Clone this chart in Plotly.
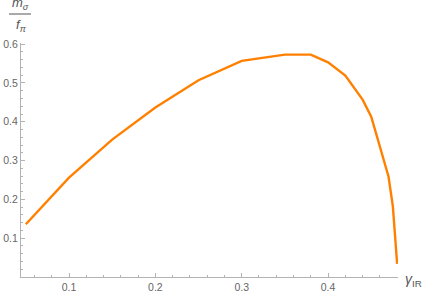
import plotly.graph_objects as go

gamma_ir = [0.05, 0.10, 0.15, 0.20, 0.25, 0.30, 0.35, 0.38, 0.40, 0.42, 0.44, 0.45, 0.47, 0.475, 0.48]
m_sigma_over_f_pi = [0.136, 0.256, 0.354, 0.437, 0.507, 0.557, 0.573, 0.573, 0.553, 0.519, 0.457, 0.413, 0.259, 0.183, 0.034]
x_ticks = [0.1, 0.2, 0.3, 0.4]
y_ticks = [0.1, 0.2, 0.3, 0.4, 0.5, 0.6]

W, H = 436, 298
ML, MR, MT, MB = 21, 38, 43, 21
PW, PH = W - ML - MR, H - MT - MB

axis_col = "#b3b3b3"
lab_col = "#666666"
font = "Liberation Sans"

fig = go.Figure()
fig.add_trace(go.Scatter(x=gamma_ir, y=m_sigma_over_f_pi, mode="lines",
                         line=dict(color="#ff8000", width=2.4), showlegend=False,
                         hoverinfo="skip"))

common = dict(showgrid=False, zeroline=False, showline=True, linecolor=axis_col, linewidth=1,
              ticks="inside", ticklen=4, tickcolor=axis_col, tickwidth=1, automargin=False,
              tickfont=dict(family=font, size=10.5, color=lab_col), tickmode="array")

fig.update_xaxes(range=[0.0444, 0.481], tickvals=x_ticks, ticktext=[str(v) for v in x_ticks],
                 minor=dict(ticks="inside", ticklen=2, tickcolor=axis_col, dtick=0.02, tick0=0),
                 **common)
fig.update_yaxes(range=[0, 0.603], tickvals=y_ticks, ticktext=[str(v) for v in y_ticks],
                 minor=dict(ticks="inside", ticklen=2, tickcolor=axis_col, dtick=0.02, tick0=0),
                 **common)

def px_x(px):
    return (px - ML) / PW

def px_y(py):
    return (H - MB - py) / PH

fig.add_annotation(x=px_x(20), y=px_y(13), xref="paper", yref="paper", showarrow=False,
                   text="<i>m</i><sub><i>σ</i></sub>", font=dict(family=font, size=13, color="#555555"),
                   xanchor="center", yanchor="bottom", borderpad=0)
fig.add_annotation(x=px_x(21), y=px_y(16), xref="paper", yref="paper", showarrow=False,
                   text="<i>f</i><sub><i>π</i></sub>", font=dict(family=font, size=13, color="#555555"),
                   xanchor="center", yanchor="top", borderpad=0)
fig.add_shape(type="line", xref="paper", yref="paper", x0=px_x(9), x1=px_x(31),
              y0=px_y(14), y1=px_y(14), line=dict(color="#555555", width=1))
fig.add_annotation(x=px_x(403), y=px_y(280), xref="paper", yref="paper", showarrow=False,
                   text="<i>γ</i><sub>IR</sub>", font=dict(family=font, size=14, color="#555555"),
                   xanchor="left", yanchor="middle")

fig.update_layout(width=W, height=H, margin=dict(l=ML, r=MR, t=MT, b=MB),
                  plot_bgcolor="white", paper_bgcolor="white")

fig.write_html("out.html", config={"displayModeBar": False},
               post_script="document.body.style.margin='0px';")
